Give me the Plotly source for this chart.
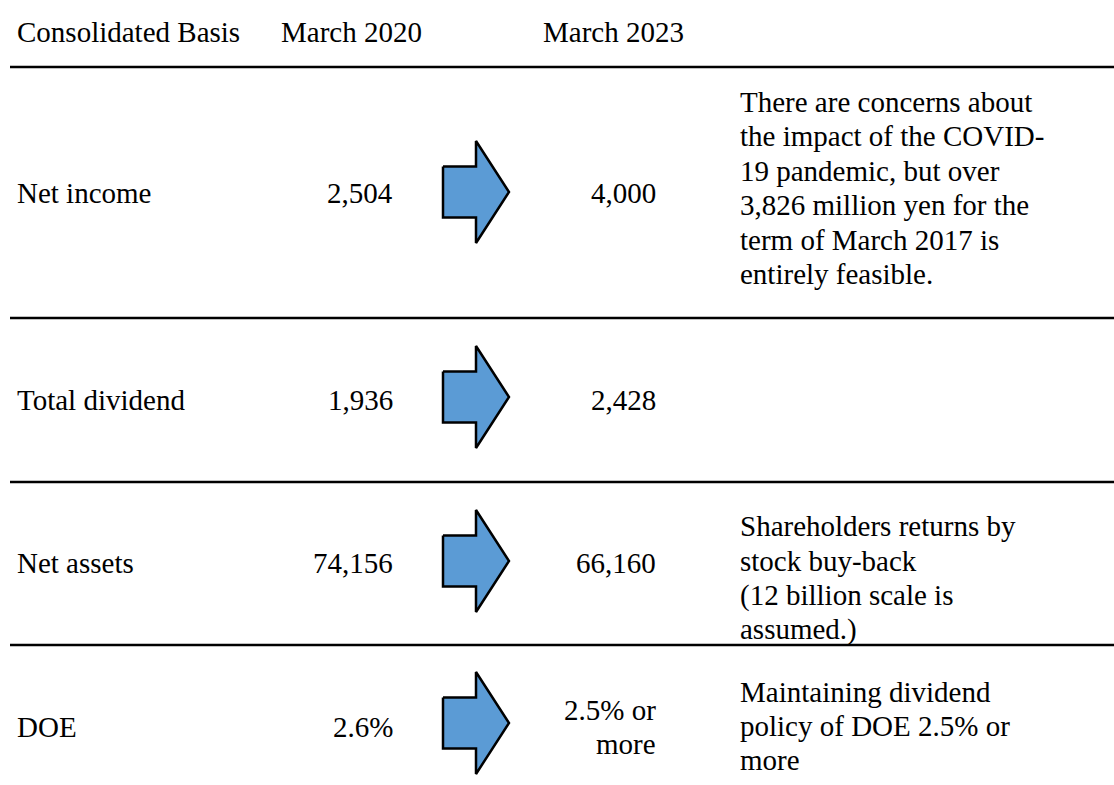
import plotly.graph_objects as go

# ---- data ----
header_labels = ["Consolidated Basis", "March 2020", "March 2023"]
categories = ["Net income", "Total dividend", "Net assets", "DOE"]
values_2020 = ["2,504", "1,936", "74,156", "2.6%"]
values_2023 = [["4,000"], ["2,428"], ["66,160"], ["2.5% or", "more"]]
notes = [
    ["There are concerns about", "the impact of the COVID-", "19 pandemic, but over",
     "3,826 million yen for the", "term of March 2017 is", "entirely feasible."],
    [],
    ["Shareholders returns by", "stock buy-back", "(12 billion scale is", "assumed.)"],
    ["Maintaining dividend", "policy of DOE 2.5% or", "more"],
]

# ---- layout parameters ----
W, H = 1114, 785
FONT = "Liberation Serif, Times New Roman, serif"
FS = 29
LINE_H = 34.4
header_y = 32
header_x = [15, 279, 541]
rule_y = [67, 318, 482, 645]
row_y = [193, 400, 563, 727]
note_y = [188, 400, 578, 726]
arrow_cy = [192, 397, 561, 723]
label_x = 15
v20_x = 395
v23_x = 658
note_x = 738
arrow_x0, arrow_xb, arrow_xt = 443, 476, 509
arrow_half_h, body_half_h = 51, 25.5
ARROW_FILL = "#5B9BD5"

fig = go.Figure()

# arrows as filled scatter polygons
for cy in arrow_cy:
    xs = [arrow_x0, arrow_xb, arrow_xb, arrow_xt, arrow_xb, arrow_xb, arrow_x0, arrow_x0]
    ys = [cy - body_half_h, cy - body_half_h, cy - arrow_half_h, cy, cy + arrow_half_h,
          cy + body_half_h, cy + body_half_h, cy - body_half_h]
    fig.add_trace(go.Scatter(x=xs, y=ys, mode="lines", fill="toself",
                             fillcolor=ARROW_FILL, line=dict(color="#000000", width=2.5),
                             hoverinfo="skip", showlegend=False))

shapes = []
for y in rule_y:
    shapes.append(dict(type="line", xref="x", yref="y", x0=10, x1=W, y0=y, y1=y,
                       line=dict(color="#000000", width=2.5)))

ann = []
def txt(x, y, s, anchor="left"):
    ann.append(dict(x=x, y=y, xref="x", yref="y", text=s, showarrow=False,
                    xanchor=anchor, yanchor="middle",
                    font=dict(family=FONT, size=FS, color="#000000")))

for x, s in zip(header_x, header_labels):
    txt(x, header_y, s)

for i, cat in enumerate(categories):
    txt(label_x, row_y[i], cat)
    txt(v20_x, row_y[i], values_2020[i], "right")
    lines23 = values_2023[i]
    n = len(lines23)
    for j, s in enumerate(lines23):
        txt(v23_x, row_y[i] + (j - (n - 1) / 2) * LINE_H, s, "right")
    n = len(notes[i])
    for j, s in enumerate(notes[i]):
        txt(note_x, note_y[i] + (j - (n - 1) / 2) * LINE_H, s)

fig.update_layout(
    width=W, height=H,
    margin=dict(l=0, r=0, t=0, b=0),
    paper_bgcolor="white", plot_bgcolor="white",
    xaxis=dict(range=[0, W], visible=False, fixedrange=True),
    yaxis=dict(range=[H, 0], visible=False, fixedrange=True),
    shapes=shapes, annotations=ann, showlegend=False,
)

fig.write_html("out.html", config={"displayModeBar": False},
               post_script="document.body.style.margin='0';document.body.style.overflow='hidden';")
